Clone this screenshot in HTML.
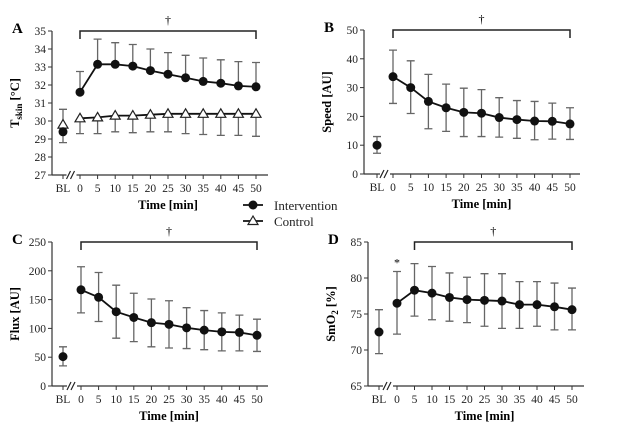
<!DOCTYPE html>
<html><head><meta charset="utf-8"><style>
body{margin:0;background:#fff}
svg{display:block;font-family:"Liberation Serif",serif}
</style></head><body>
<svg id="fig" width="618" height="437" viewBox="0 0 618 437" xmlns="http://www.w3.org/2000/svg"></svg>
<script>
const timeLabels=["BL","0","5","10","15","20","25","30","35","40","45","50"];
const aInt=[29.4,31.6,33.15,33.15,33.05,32.8,32.6,32.4,32.2,32.1,31.95,31.9];
const aIntHi=[29.4,32.75,34.55,34.35,34.25,34.0,33.8,33.65,33.5,33.4,33.3,33.25];
const aIntLo=[28.8,31.6,33.15,33.15,33.05,32.8,32.6,32.4,32.2,32.1,31.95,31.9];
const aCtl=[29.8,30.15,30.2,30.3,30.3,30.35,30.4,30.4,30.4,30.4,30.4,30.4];
const aCtlHi=[30.65,30.15,30.2,30.3,30.3,30.35,30.4,30.4,30.4,30.4,30.4,30.4];
const aCtlLo=[29.8,29.3,29.3,29.4,29.35,29.4,29.4,29.3,29.25,29.2,29.2,29.15];
const aTicks=[27,28,29,30,31,32,33,34,35];
const bVal=[10,33.8,30,25.2,23,21.4,21.1,19.6,18.9,18.4,18.3,17.4];
const bHi=[13,43,39.3,34.6,31.2,29.8,29.3,26.5,25.5,25.2,24.6,23];
const bLo=[7.2,24.5,21,15.7,14.8,13,13,12.8,12.4,11.9,12.1,12];
const bTicks=[0,10,20,30,40,50];
const cVal=[51,167,154,129,119,110,107,101,97,94,93,88];
const cHi=[68,207,197,175,161,151,148,136,131,127,123,116];
const cLo=[35,127,112,83,77,68,66,65,63,61,61,60];
const cTicks=[0,50,100,150,200,250];
const dVal=[72.5,76.5,78.3,77.9,77.3,77,76.9,76.8,76.3,76.3,76,75.6];
const dHi=[75.6,80.9,82,81.6,80.7,80.1,80.6,80.6,79.5,79.5,79.3,78.6];
const dLo=[69.5,72.2,74.7,74.2,74,73.8,73.3,73,73,73.3,72.8,72.8];
const dTicks=[65,70,75,80,85];

const svg=document.getElementById('fig');
const NS='http://www.w3.org/2000/svg';
function mk(tag,attrs,parent,txt){const e=document.createElementNS(NS,tag);for(const k in attrs)e.setAttribute(k,attrs[k]);if(txt!==undefined)e.textContent=txt;(parent||svg).appendChild(e);return e;}

function panel(o){
  const g=mk('g',{});
  
  
  const y=v=>o.y0-(o.y0-o.y1)*(v-o.min)/(o.max-o.min);
  const x=i=>i===0?o.xbl:o.x0+(i-1)*(o.x50-o.x0)/10;
  const L=mk('text',{x:o.ax-40,y:o.y1+2,'font-size':15,'font-weight':'bold'},g,o.letter);
  
  const ya=mk('line',{x1:o.ax,y1:o.y1,x2:o.ax,y2:o.y0,stroke:'#333','stroke-width':1.2},g);
  
  o.ticks.forEach(t=>{
    mk('line',{x1:o.ax-4,y1:y(t),x2:o.ax,y2:y(t),stroke:'#333','stroke-width':1},g);
    const tl=mk('text',{x:o.ax-6,y:y(t)+4,'font-size':11.5,'text-anchor':'end',fill:'#222'},g,t);
    
  });
  const xa=mk('line',{x1:o.ax,y1:o.y0,x2:o.axEnd,y2:o.y0,stroke:'#333','stroke-width':1.2},g);
  
  const bx=(o.xbl+o.x0)/2;
  mk('rect',{x:bx-5,y:o.y0-3,width:10,height:6,fill:'#fff'},g);
  mk('line',{x1:bx-5,y1:o.y0+4,x2:bx-1,y2:o.y0-4,stroke:'#222','stroke-width':1.2},g);
  mk('line',{x1:bx-1,y1:o.y0+4,x2:bx+3,y2:o.y0-4,stroke:'#222','stroke-width':1.2},g);
  timeLabels.forEach((t,i)=>{
    mk('line',{x1:x(i),y1:o.y0,x2:x(i),y2:o.y0+4,stroke:'#333'},g);
    const tl=mk('text',{x:x(i),y:o.y0+17,'font-size':11.5,'text-anchor':'middle',fill:'#222'},g,t);
    
  });
  const xt=mk('text',{x:(o.x0+o.x50)/2,y:o.y0+34,'font-size':12.5,'font-weight':'bold','text-anchor':'middle'},g,'Time [min]');
  
  const cy=(o.y0+o.y1)/2;
  const yt=mk('text',{x:o.ax-33,y:cy,'font-size':12.5,'font-weight':'bold','text-anchor':'middle',transform:`rotate(-90 ${o.ax-33} ${cy})`},g);
  yt.innerHTML=o.ytitle;
  
  const bs=x(o.bStart),be=x(11);
  const br=mk('path',{d:`M${bs} ${o.y1+8}V${o.y1}H${be}V${o.y1+8}`,fill:'none',stroke:'#222','stroke-width':1.5},g);
  
  const dg=mk('text',{x:(bs+be)/2,y:o.y1-7,'font-size':12,'text-anchor':'middle'},g,'†');
  
  if(o.star){const s=mk('text',{x:x(1),y:y(o.star),'font-size':12,'text-anchor':'middle'},g,'*');}
  o.series.forEach(s=>{
    const sg=mk('g',{},g);
    
    s.v.forEach((v,i)=>{
      const eb=mk('path',{d:`M${x(i)} ${y(s.lo[i])}V${y(s.hi[i])}`+(s.hi[i]!==v?`M${x(i)-4} ${y(s.hi[i])}h8`:'')+(s.lo[i]!==v?`M${x(i)-4} ${y(s.lo[i])}h8`:''),stroke:'#666','stroke-width':1.3,fill:'none'},sg);
      
    });
    let d='';for(let i=1;i<s.v.length;i++)d+=(i===1?'M':'L')+x(i)+' '+y(s.v[i]);
    const ln=mk('path',{d:d,stroke:'#111','stroke-width':1.8,fill:'none'},sg);
    
    s.v.forEach((v,i)=>{
      let m;
      if(s.tri){const X=x(i),Y=y(v);m=mk('path',{d:`M${X} ${Y-5}L${X+5} ${Y+3.5}L${X-5} ${Y+3.5}Z`,fill:'#fff',stroke:'#222','stroke-width':1.2},sg);}
      else m=mk('circle',{cx:x(i),cy:y(v),r:4.5,fill:'#111'},sg);
      
    });
  });
}
panel({letter:'A',ax:52,axEnd:268,y0:175,y1:31,min:27,max:35,xbl:63,x0:80,x50:256,ticks:aTicks,bStart:1,
  ytitle:'T<tspan font-size="9" dy="3">skin</tspan><tspan dy="-3"> [°C]</tspan>',
  series:[{name:'control',v:aCtl,hi:aCtlHi,lo:aCtlLo,tri:true},{name:'intervention',v:aInt,hi:aIntHi,lo:aIntLo}]});
panel({letter:'B',ax:364,axEnd:580,y0:174,y1:30,min:0,max:50,xbl:377,x0:393,x50:570,ticks:bTicks,bStart:1,
  ytitle:'Speed [AU]',series:[{name:'intervention',v:bVal,hi:bHi,lo:bLo}]});
panel({letter:'C',ax:52,axEnd:268,y0:386,y1:242,min:0,max:250,xbl:63,x0:81,x50:257,ticks:cTicks,bStart:1,
  ytitle:'Flux [AU]',series:[{name:'intervention',v:cVal,hi:cHi,lo:cLo}]});
panel({letter:'D',ax:368,axEnd:584,y0:386,y1:242,min:65,max:85,xbl:379,x0:397,x50:572,ticks:dTicks,bStart:2,star:81.6,
  ytitle:'SmO<tspan font-size="9" dy="3">2</tspan><tspan dy="-3"> [%]</tspan>',series:[{name:'intervention',v:dVal,hi:dHi,lo:dLo}]});
const lg=mk('g',{});

const e1=mk('g',{},lg);
mk('line',{x1:243,y1:205,x2:263,y2:205,stroke:'#111','stroke-width':1.8},e1);
mk('circle',{cx:253,cy:205,r:4.5,fill:'#111'},e1);
mk('text',{x:274,y:210,'font-size':13,fill:'#222'},e1,'Intervention');
const e2=mk('g',{},lg);
mk('line',{x1:243,y1:221,x2:263,y2:221,stroke:'#111','stroke-width':1.8},e2);
mk('path',{d:'M253 216L258 224.5L248 224.5Z',fill:'#fff',stroke:'#222','stroke-width':1.2},e2);
mk('text',{x:274,y:226,'font-size':13,fill:'#222'},e2,'Control');
</script>
</body></html>
